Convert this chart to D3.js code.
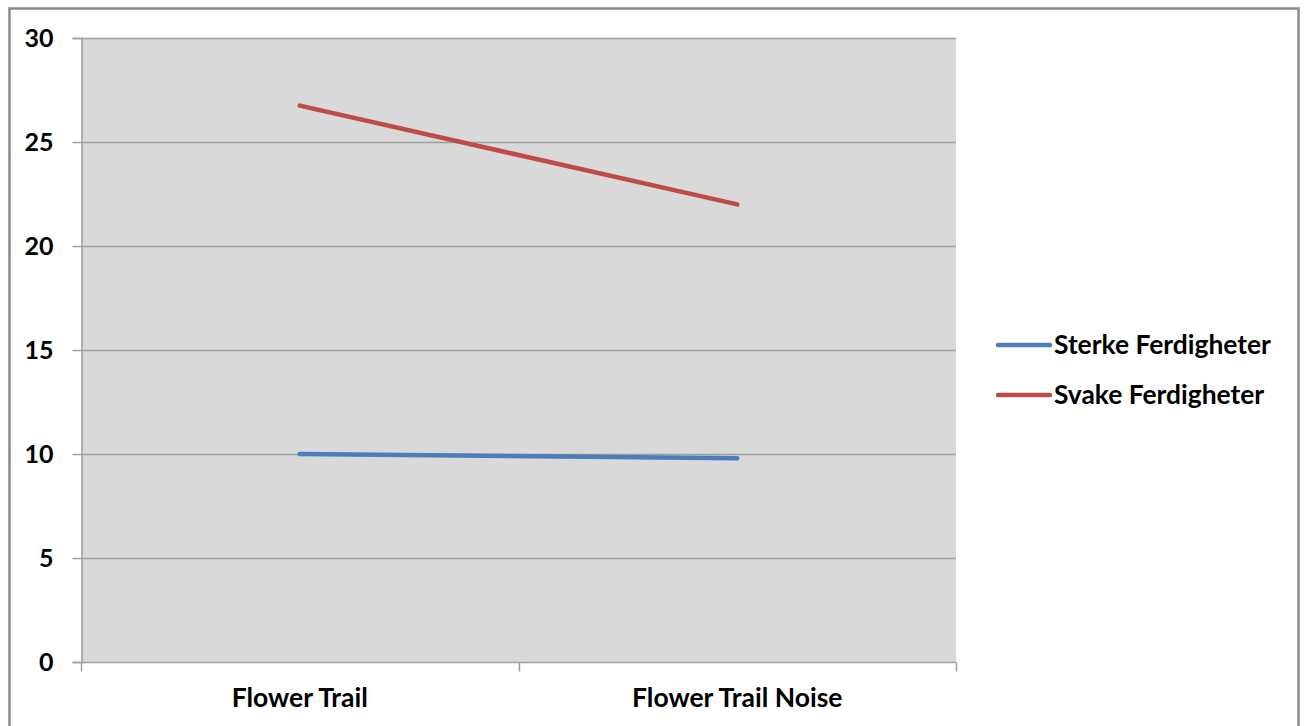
<!DOCTYPE html>
<html>
<head>
<meta charset="utf-8">
<script src="https://cdn.jsdelivr.net/npm/d3@7"></script>
<style>
  html, body { margin: 0; padding: 0; background: #fff; }
  svg { display: block; }
  text { font-family: Lato, "Liberation Sans", sans-serif; font-weight: bold; fill: #000; }
</style>
</head>
<body>
<svg id="chart" width="1306" height="726"></svg>
<script>
// Categories on the x axis
const categories = ["Flower Trail", "Flower Trail Noise"];
// Series values
const seriesNames = ["Sterke Ferdigheter", "Svake Ferdigheter"];
const sterke = [10.0, 9.8];
const svake = [26.75, 22.0];
// Y tick values
const yTicks = [0, 5, 10, 15, 20, 25, 30];

const colors = ["#4a7ebb", "#be4b48"];
const seriesValues = [sterke, svake];

const svg = d3.select("#chart");

// Outer chart frame
svg.append("rect")
  .attr("x", 9.5).attr("y", 8.5)
  .attr("width", 1289).attr("height", 740)
  .attr("fill", "#fff")
  .attr("stroke", "#898989")
  .attr("stroke-width", 2.5);

const plot = { left: 81, top: 38, right: 956, bottom: 662 };

const x = d3.scaleBand()
  .domain(categories)
  .range([plot.left, plot.right])
  .paddingInner(0).paddingOuter(0);

const y = d3.scaleLinear()
  .domain([0, 30])
  .range([plot.bottom, plot.top]);

// Plot background
svg.append("rect")
  .attr("x", plot.left).attr("y", plot.top)
  .attr("width", plot.right - plot.left)
  .attr("height", plot.bottom - plot.top)
  .attr("fill", "#d9d9d9");

// Horizontal gridlines
svg.append("g")
  .selectAll("line")
  .data(yTicks.filter(d => d > 0))
  .join("line")
  .attr("x1", plot.left).attr("x2", plot.right)
  .attr("y1", d => Math.round(y(d)) + 0.5)
  .attr("y2", d => Math.round(y(d)) + 0.5)
  .attr("stroke", "#a0a0a0")
  .attr("stroke-width", 1.5);

// Y axis
const yAxis = d3.axisLeft(y)
  .tickValues(yTicks)
  .tickSize(9)
  .tickPadding(19)
  .tickFormat(d3.format("d"));
const gy = svg.append("g")
  .attr("transform", `translate(${plot.left + 0.5},0)`)
  .call(yAxis);
gy.select(".domain").attr("stroke", "#a0a0a0").attr("stroke-width", 1.5);
gy.selectAll(".tick line").attr("stroke", "#a0a0a0").attr("stroke-width", 1.5);
gy.selectAll(".tick text")
  .attr("font-size", 25)
  .attr("font-family", "Lato, sans-serif")
  .attr("font-weight", "bold")
  .attr("fill", "#000");

// X axis: tick marks at category boundaries, labels at band centres
const gx = svg.append("g")
  .attr("transform", `translate(0,${Math.round(plot.bottom) + 0.5})`);
gx.append("line")
  .attr("x1", plot.left).attr("x2", plot.right)
  .attr("stroke", "#a0a0a0").attr("stroke-width", 1.5);
const boundaries = [plot.left, ...categories.slice(1).map(c => x(c)), plot.right];
gx.selectAll("line.tk")
  .data(boundaries)
  .join("line")
  .attr("class", "tk")
  .attr("x1", d => Math.round(d) + 0.5).attr("x2", d => Math.round(d) + 0.5)
  .attr("y1", 0).attr("y2", 9)
  .attr("stroke", "#a0a0a0").attr("stroke-width", 1.5);
gx.selectAll("text")
  .data(categories)
  .join("text")
  .attr("x", d => x(d) + x.bandwidth() / 2)
  .attr("y", 44)
  .attr("text-anchor", "middle")
  .attr("font-size", 26.5)
  .text(d => d);

// Series lines
const line = d3.line()
  .x((d, i) => x(categories[i]) + x.bandwidth() / 2)
  .y(d => y(d));

svg.append("g")
  .selectAll("path")
  .data(seriesValues)
  .join("path")
  .attr("d", d => line(d))
  .attr("fill", "none")
  .attr("stroke", (d, i) => colors[i])
  .attr("stroke-width", 4.5)
  .attr("stroke-linecap", "round");

// Legend
const legend = svg.append("g");
const legendY = [345, 395];
seriesNames.forEach((name, i) => {
  legend.append("line")
    .attr("x1", 998).attr("x2", 1050)
    .attr("y1", legendY[i]).attr("y2", legendY[i])
    .attr("stroke", colors[i])
    .attr("stroke-width", 4.5)
    .attr("stroke-linecap", "round");
  legend.append("text")
    .attr("x", 1054)
    .attr("y", legendY[i] + 8.5)
    .attr("font-size", 26.4)
    .text(name);
});
</script>
</body>
</html>
